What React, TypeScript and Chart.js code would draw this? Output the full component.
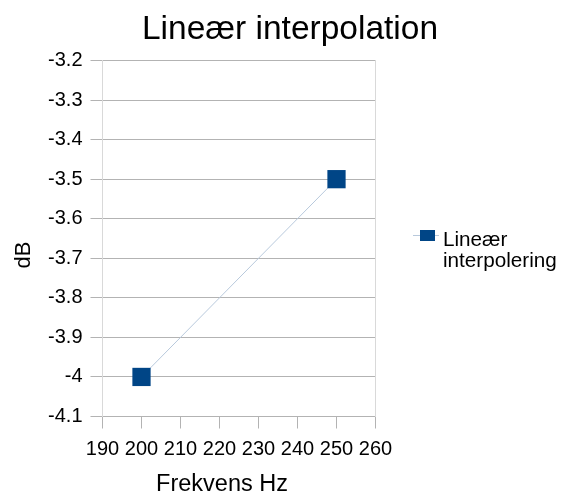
import React, { useEffect, useRef } from "react";
import { Chart, registerables } from "chart.js";

Chart.register(...registerables);

const chartTitle = "Lineær interpolation";
const xAxisTitle = "Frekvens Hz";
const yAxisTitle = "dB";
const seriesName = "Lineær interpolering";
const xValues = [200, 250];
const yValues = [-4, -3.5];
const xTickValues = [190, 200, 210, 220, 230, 240, 250, 260];
const yTickValues = [-4.1, -4, -3.9, -3.8, -3.7, -3.6, -3.5, -3.4, -3.3, -3.2];
const yTickLabels = ["-4.1", "-4", "-3.9", "-3.8", "-3.7", "-3.6", "-3.5", "-3.4", "-3.3", "-3.2"];
const xTickLabels = ["190", "200", "210", "220", "230", "240", "250", "260"];

const FONT = "'Liberation Sans', Arial, sans-serif";
const MARKER = "#004586";
const LINE = "#b8c9dc";
const GRID = "#b3b3b3";
const LIGHT = "#d9d9d9";

const textPlugin = {
  id: "texts",
  afterDraw(chart: any) {
    const ctx = chart.ctx;
    ctx.save();
    ctx.fillStyle = "#000";
    // title
    ctx.font = `33.5px ${FONT}`;
    ctx.textAlign = "center";
    ctx.textBaseline = "alphabetic";
    ctx.fillText(chartTitle, 290, 38.5);
    // x axis title
    ctx.font = `23.5px ${FONT}`;
    ctx.fillText(xAxisTitle, 222, 491);
    // y axis title
    ctx.save();
    ctx.translate(30, 255);
    ctx.rotate(-Math.PI / 2);
    ctx.font = `22px ${FONT}`;
    ctx.fillText(yAxisTitle, 0, 0);
    ctx.restore();
    // legend
    ctx.strokeStyle = LINE;
    ctx.lineWidth = 1;
    ctx.beginPath();
    ctx.moveTo(413, 235.5);
    ctx.lineTo(439, 235.5);
    ctx.stroke();
    ctx.fillStyle = MARKER;
    ctx.fillRect(420, 230, 15, 11);
    ctx.fillStyle = "#000";
    ctx.font = `20.7px ${FONT}`;
    ctx.textAlign = "left";
    const parts = seriesName.split(" ");
    parts.forEach((p, i) => ctx.fillText(p, 443, 246 + i * 21));
    ctx.restore();
  },
};

export default function App() {
  const ref = useRef<HTMLCanvasElement>(null);
  useEffect(() => {
    const chart = new Chart(ref.current!, {
      type: "line",
      data: {
        datasets: [
          {
            label: seriesName,
            data: xValues.map((x, i) => ({ x, y: yValues[i] })),
            borderColor: LINE,
            borderWidth: 1,
            backgroundColor: MARKER,
            pointStyle: "rect",
            pointRadius: 12.9,
            pointBackgroundColor: MARKER,
            pointBorderColor: MARKER,
            pointBorderWidth: 0,
            clip: false,
          } as any,
        ],
      },
      options: {
        responsive: false,
        animation: false,
        layout: { padding: { top: 60.5, bottom: 0, left: 0, right: 0 } },
        plugins: {
          legend: { display: false },
          title: { display: false },
          tooltip: { enabled: false },
        },
        scales: {
          x: {
            type: "linear",
            min: 190,
            max: 260,
            afterBuildTicks: (s: any) => {
              s.ticks = xTickValues.map((v) => ({ value: v }));
            },
            afterFit: (s: any) => {
              s.height = 80.5;
            },
            ticks: {
              callback: (v: any) => xTickLabels[xTickValues.indexOf(Number(v))] ?? String(v),
              font: { family: FONT, size: 20 },
              color: "#000",
              padding: 9,
              maxRotation: 0,
              autoSkip: false,
            },
            grid: {
              drawOnChartArea: false,
              drawTicks: true,
              tickLength: 12,
              color: GRID,
            },
            border: { color: GRID },
          },
          y: {
            type: "linear",
            min: -4.1,
            max: -3.2,
            afterBuildTicks: (s: any) => {
              s.ticks = yTickValues.map((v) => ({ value: v }));
            },
            afterFit: (s: any) => {
              s.width = 102.5;
            },
            ticks: {
              callback: (v: any) => {
                const idx = yTickValues.findIndex((t) => Math.abs(t - Number(v)) < 1e-6);
                return idx >= 0 ? yTickLabels[idx] : String(v);
              },
              font: { family: FONT, size: 20 },
              color: "#000",
              padding: 8,
              autoSkip: false,
            },
            grid: {
              color: GRID,
              tickLength: 12,
            },
            border: { color: LIGHT },
          },
          y2: {
            type: "linear",
            position: "right",
            min: -4.1,
            max: -3.2,
            ticks: { display: false },
            grid: { display: false },
            border: { color: LIGHT },
            afterFit: (s: any) => {
              s.width = 187.5;
            },
          },
        },
      } as any,
      plugins: [textPlugin],
    });
    return () => chart.destroy();
  }, []);
  return (
    <div style={{ position: "absolute", left: 0, top: 0, width: 563, height: 497, background: "#fff" }}>
      <canvas ref={ref} width={563} height={497} />
    </div>
  );
}
